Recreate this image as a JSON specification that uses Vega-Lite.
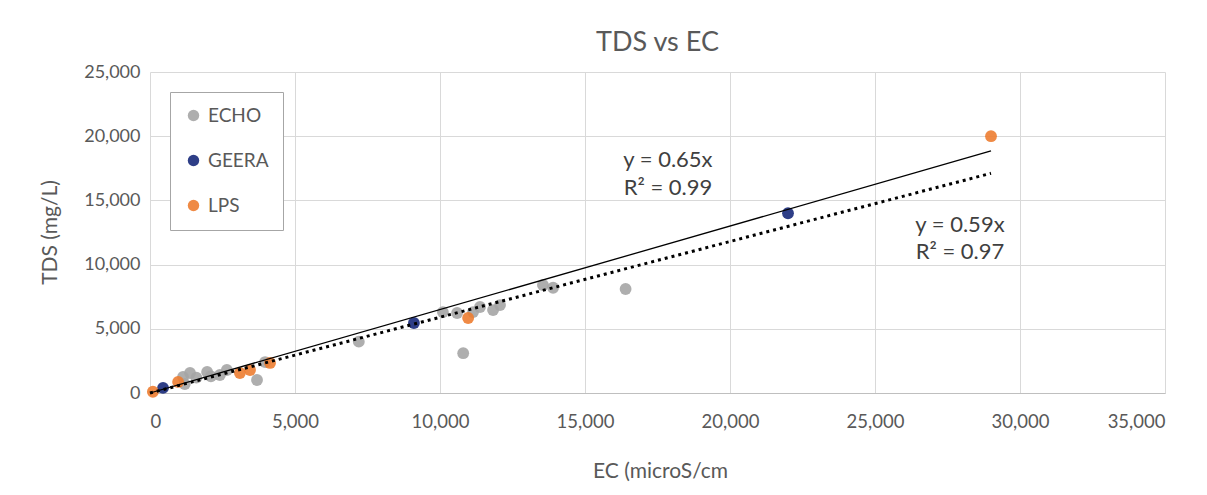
{
  "$schema": "https://vega.github.io/schema/vega-lite/v6.json",
  "width": 1015,
  "height": 321,
  "autosize": {"type": "none"},
  "padding": {"left": 150, "top": 72, "right": 42, "bottom": 102},
  "background": "white",
  "title": {"text": "TDS vs EC", "fontSize": 27, "font": "Lato", "fontWeight": "normal", "color": "#595959", "anchor": "middle", "offset": 6},
  "config": {"view": {"stroke": null}, "font": "Lato"},
  "datasets": {
    "points": [
      {"EC": 1140, "TDS": 1250, "Site": "ECHO"},
      {"EC": 1380, "TDS": 1560, "Site": "ECHO"},
      {"EC": 1200, "TDS": 700, "Site": "ECHO"},
      {"EC": 1600, "TDS": 1200, "Site": "ECHO"},
      {"EC": 1970, "TDS": 1640, "Site": "ECHO"},
      {"EC": 2100, "TDS": 1300, "Site": "ECHO"},
      {"EC": 2410, "TDS": 1400, "Site": "ECHO"},
      {"EC": 2650, "TDS": 1790, "Site": "ECHO"},
      {"EC": 3690, "TDS": 1010, "Site": "ECHO"},
      {"EC": 3970, "TDS": 2410, "Site": "ECHO"},
      {"EC": 7200, "TDS": 4000, "Site": "ECHO"},
      {"EC": 10100, "TDS": 6300, "Site": "ECHO"},
      {"EC": 10590, "TDS": 6230, "Site": "ECHO"},
      {"EC": 11140, "TDS": 6300, "Site": "ECHO"},
      {"EC": 11380, "TDS": 6700, "Site": "ECHO"},
      {"EC": 11830, "TDS": 6460, "Site": "ECHO"},
      {"EC": 12070, "TDS": 6850, "Site": "ECHO"},
      {"EC": 10800, "TDS": 3100, "Site": "ECHO"},
      {"EC": 13550, "TDS": 8410, "Site": "ECHO"},
      {"EC": 13900, "TDS": 8200, "Site": "ECHO"},
      {"EC": 16400, "TDS": 8100, "Site": "ECHO"},
      {"EC": 450, "TDS": 400, "Site": "GEERA"},
      {"EC": 9100, "TDS": 5450, "Site": "GEERA"},
      {"EC": 22000, "TDS": 14000, "Site": "GEERA"},
      {"EC": 100, "TDS": 100, "Site": "LPS"},
      {"EC": 970, "TDS": 860, "Site": "LPS"},
      {"EC": 3100, "TDS": 1560, "Site": "LPS"},
      {"EC": 3450, "TDS": 1790, "Site": "LPS"},
      {"EC": 4140, "TDS": 2340, "Site": "LPS"},
      {"EC": 10970, "TDS": 5840, "Site": "LPS"},
      {"EC": 29000, "TDS": 20000, "Site": "LPS"}
    ],
    "trend65": [
      {"EC": 0, "TDS": 0},
      {"EC": 29000, "TDS": 18850}
    ],
    "trend59": [
      {"EC": 0, "TDS": 0},
      {"EC": 29000, "TDS": 17110}
    ],
    "labels": [
      {"EC": 17860, "TDS": 18150, "text": "y = 0.65x"},
      {"EC": 17860, "TDS": 15970, "text": "R² = 0.99"},
      {"EC": 27930, "TDS": 13080, "text": "y = 0.59x"},
      {"EC": 27930, "TDS": 10980, "text": "R² = 0.97"}
    ]
  },
  "layer": [
    {
      "data": {"name": "points"},
      "mark": {"type": "circle", "size": 140, "opacity": 0.9},
      "encoding": {
        "x": {
          "field": "EC", "type": "quantitative",
          "scale": {"domain": [0, 35000], "nice": false},
          "axis": {
            "title": "EC (microS/cm",
            "values": [0, 5000, 10000, 15000, 20000, 25000, 30000, 35000],
            "format": ",d",
            "labelFontSize": 18.5, "labelColor": "#595959", "labelPadding": 19,
            "ticks": false, "domain": true, "domainColor": "#bfbfbf",
            "grid": true, "gridColor": "#d9d9d9",
            "titleFontSize": 21, "titleFontWeight": "normal", "titleColor": "#595959",
            "titleX": 510, "titleY": 78, "titleBaseline": "middle", "titleAlign": "center"
          }
        },
        "y": {
          "field": "TDS", "type": "quantitative",
          "scale": {"domain": [0, 25000], "nice": false},
          "axis": {
            "title": "TDS (mg/L)",
            "values": [0, 5000, 10000, 15000, 20000, 25000],
            "format": ",d",
            "labelFontSize": 18, "labelColor": "#595959", "labelPadding": 10,
            "ticks": false, "domain": false,
            "grid": true, "gridColor": "#d9d9d9",
            "titleFontSize": 21, "titleFontWeight": "normal", "titleColor": "#595959",
            "titleX": -100, "titleY": 160, "titleAngle": -90, "titleBaseline": "middle", "titleAlign": "center"
          }
        },
        "color": {
          "field": "Site", "type": "nominal",
          "scale": {"domain": ["ECHO", "GEERA", "LPS"], "range": ["#a5a5a5", "#17297a", "#ed7d31"]},
          "legend": {
            "title": null, "orient": "none", "legendX": 20, "legendY": 20,
            "labelFontSize": 19, "labelColor": "#595959", "symbolSize": 130, "symbolType": "circle",
            "padding": 14, "rowPadding": 25, "strokeColor": "#a6a6a6", "fillColor": "white",
            "labelOffset": 5
          }
        }
      }
    },
    {
      "data": {"name": "trend65"},
      "mark": {"type": "line", "color": "#000000", "strokeWidth": 1.3},
      "encoding": {
        "x": {"field": "EC", "type": "quantitative"},
        "y": {"field": "TDS", "type": "quantitative"}
      }
    },
    {
      "data": {"name": "trend59"},
      "mark": {"type": "line", "color": "#000000", "strokeWidth": 3, "strokeDash": [3, 4]},
      "encoding": {
        "x": {"field": "EC", "type": "quantitative"},
        "y": {"field": "TDS", "type": "quantitative"}
      }
    },
    {
      "data": {"name": "labels"},
      "mark": {"type": "text", "fontSize": 22, "color": "#404040", "align": "center", "baseline": "middle"},
      "encoding": {
        "x": {"field": "EC", "type": "quantitative"},
        "y": {"field": "TDS", "type": "quantitative"},
        "text": {"field": "text"}
      }
    }
  ]
}
